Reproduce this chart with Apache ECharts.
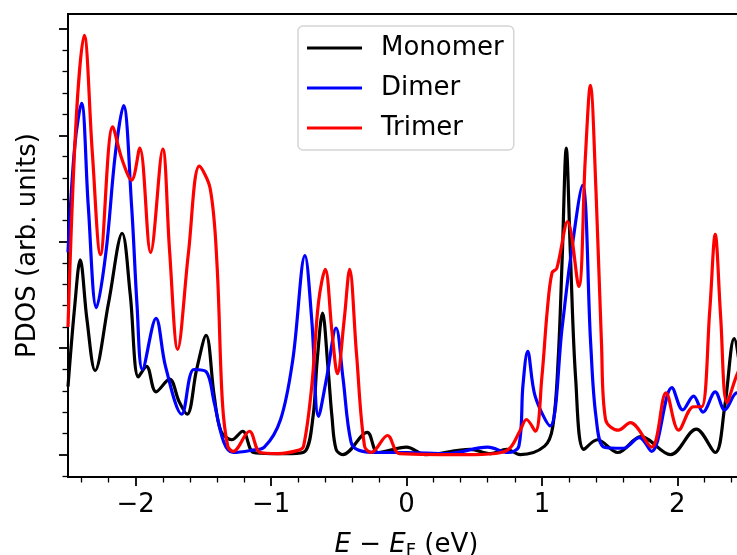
<!DOCTYPE html>
<html>
<head>
<meta charset="utf-8">
<script src="https://cdn.jsdelivr.net/npm/echarts@6/dist/echarts.min.js"></script>
<style>
  html, body { margin: 0; padding: 0; background: #fff; }
  #chart { width: 737px; height: 555px; }
</style>
</head>
<body>
<div id="chart"></div>
<script>
// energies (eV, relative to E_F) and PDOS values
const monoE = [-2.50, -2.45, -2.41, -2.36, -2.30, -2.20, -2.10, -2.04, -1.98, -1.92, -1.85, -1.75, -1.68, -1.62, -1.55, -1.48, -1.42, -1.37, -1.29, -1.21, -1.13, -1.00, -0.85, -0.75, -0.69, -0.66, -0.62, -0.58, -0.55, -0.52, -0.47, -0.29, -0.21, 0.00, 0.14, 0.47, 0.62, 0.74, 0.84, 1.02, 1.08, 1.12, 1.15, 1.18, 1.21, 1.25, 1.31, 1.41, 1.56, 1.73, 1.95, 2.14, 2.28, 2.35, 2.42, 2.47, 2.50];
const monoPdos = [0.64, 1.40, 1.83, 1.27, 0.79, 1.43, 2.08, 1.50, 0.73, 0.83, 0.59, 0.71, 0.50, 0.38, 0.80, 1.12, 0.55, 0.22, 0.14, 0.22, 0.02, 0.01, 0.01, 0.03, 0.36, 0.88, 1.33, 0.82, 0.35, 0.05, 0.00, 0.21, 0.02, 0.07, 0.00, 0.05, 0.01, 0.05, 0.00, 0.08, 0.26, 0.89, 1.85, 2.88, 1.90, 0.70, 0.05, 0.14, 0.02, 0.17, 0.00, 0.24, 0.02, 0.45, 1.09, 0.75, 0.40];

const dimerE = [-2.50, -2.45, -2.40, -2.35, -2.29, -2.22, -2.15, -2.09, -2.03, -1.99, -1.95, -1.85, -1.78, -1.66, -1.57, -1.48, -1.42, -1.35, -1.28, -1.15, -1.05, -0.93, -0.84, -0.75, -0.70, -0.65, -0.59, -0.52, -0.47, -0.41, -0.35, -0.20, 0.00, 0.30, 0.60, 0.75, 0.83, 0.86, 0.895, 0.95, 1.06, 1.15, 1.21, 1.30, 1.36, 1.40, 1.46, 1.60, 1.72, 1.81, 1.96, 2.04, 2.12, 2.19, 2.28, 2.35, 2.44, 2.50];
const dimerPdos = [1.90, 2.90, 3.30, 2.33, 1.38, 1.90, 2.83, 3.28, 2.33, 1.40, 0.80, 1.28, 0.83, 0.38, 0.80, 0.78, 0.49, 0.12, 0.02, 0.04, 0.07, 0.33, 0.89, 1.87, 1.27, 0.36, 0.72, 1.19, 0.73, 0.12, 0.04, 0.02, 0.02, 0.01, 0.07, 0.02, 0.08, 0.65, 0.97, 0.55, 0.27, 1.20, 1.83, 2.53, 1.05, 0.35, 0.07, 0.06, 0.16, 0.03, 0.63, 0.42, 0.55, 0.40, 0.59, 0.42, 0.58, 0.50];

const trimerE = [-2.50, -2.44, -2.38, -2.32, -2.26, -2.17, -2.10, -2.03, -1.97, -1.89, -1.80, -1.75, -1.69, -1.61, -1.53, -1.45, -1.40, -1.36, -1.32, -1.28, -1.16, -1.08, -0.95, -0.80, -0.76, -0.70, -0.65, -0.60, -0.55, -0.51, -0.46, -0.42, -0.37, -0.31, -0.26, -0.14, -0.05, 0.50, 0.70, 0.77, 0.84, 0.886, 0.952, 1.00, 1.04, 1.075, 1.11, 1.19, 1.272, 1.32, 1.358, 1.40, 1.44, 1.47, 1.565, 1.653, 1.81, 1.917, 2.01, 2.12, 2.18, 2.24, 2.28, 2.32, 2.367, 2.44, 2.50];
const trimerPdos = [1.20, 3.14, 3.94, 2.83, 1.88, 3.08, 2.77, 2.58, 2.88, 1.90, 2.87, 1.92, 0.99, 1.90, 2.71, 2.50, 1.80, 0.50, 0.08, 0.03, 0.22, 0.02, 0.01, 0.04, 0.08, 0.64, 1.43, 1.74, 1.15, 0.76, 1.27, 1.74, 0.96, 0.08, 0.02, 0.18, 0.01, 0.00, 0.02, 0.07, 0.23, 0.33, 0.22, 0.73, 1.36, 1.71, 1.75, 2.19, 1.58, 2.77, 3.47, 2.46, 1.05, 0.33, 0.23, 0.30, 0.07, 0.58, 0.23, 0.45, 0.45, 1.36, 2.07, 1.30, 0.49, 0.75, 0.90];

const xTicks = [-2, -1, 0, 1, 2];
const yTicks = [0, 1, 2, 3, 4];

const font = "DejaVu Sans";
const pairs = (xs, ys) => xs.map((x, i) => [x, ys[i]]);

const chart = echarts.init(document.getElementById("chart"));

const lineSeries = (name, xs, ys, color) => ({
  name: name,
  type: "line",
  data: pairs(xs, ys),
  showSymbol: false,
  smooth: 0.35,
  lineStyle: { color: color, width: 3.2 },
  itemStyle: { color: color },
  z: 3,
});

chart.setOption({
  animation: false,
  textStyle: { fontFamily: font },
  grid: {
    left: 68,
    top: 14,
    bottom: 78,
    width: 677,
    outerBoundsMode: "none",
    show: true,
    borderColor: "#000",
    borderWidth: 2,
  },
  legend: {
    orient: "vertical",
    left: 298,
    top: 26,
    padding: [9, 10, 9, 9],
    itemGap: 14,
    itemWidth: 55,
    itemHeight: 3,
    icon: "rect",
    backgroundColor: "#fff",
    borderColor: "#d5d5d5",
    borderWidth: 1.5,
    borderRadius: 5,
    textStyle: {
      fontFamily: font,
      fontSize: 26,
      color: "#000",
      padding: [0, 0, 0, 14],
    },
    data: ["Monomer", "Dimer", "Trimer"],
  },
  xAxis: {
    type: "value",
    min: -2.5,
    max: 2.5,
    splitNumber: 5,
    splitLine: { show: false },
    axisLine: { onZero: false, lineStyle: { color: "#000", width: 2 } },
    axisTick: {
      customValues: xTicks,
      length: 9,
      lineStyle: { color: "#000", width: 1.8 },
    },
    minorTick: {
      show: true,
      splitNumber: 5,
      length: 5.5,
      lineStyle: { color: "#000", width: 1.3 },
    },
    axisLabel: {
      customValues: xTicks,
      margin: 15,
      fontFamily: font,
      fontSize: 26,
      color: "#000",
      formatter: (v) => String(v).replace("-", "\u2212"),
    },
    name: "{i|E} \u2212 {i|E}{s|F} (eV)",
    nameLocation: "middle",
    nameGap: 53,
    nameTextStyle: {
      fontFamily: font,
      fontSize: 26,
      color: "#000",
      rich: {
        i: { fontFamily: font, fontSize: 26, fontStyle: "italic", color: "#000" },
        s: { fontFamily: font, fontSize: 18, color: "#000", padding: [12, 0, 0, 0] },
      },
    },
  },
  yAxis: {
    type: "value",
    min: -0.21,
    max: 4.14,
    splitNumber: 5,
    splitLine: { show: false },
    axisLine: { onZero: false, lineStyle: { color: "#000", width: 2 } },
    axisTick: {
      customValues: yTicks,
      length: 9,
      lineStyle: { color: "#000", width: 1.8 },
    },
    minorTick: {
      show: true,
      splitNumber: 5,
      length: 5.5,
      lineStyle: { color: "#000", width: 1.3 },
    },
    axisLabel: { show: false },
    name: "PDOS (arb. units)",
    nameLocation: "middle",
    nameGap: 27,
    nameTextStyle: { fontFamily: font, fontSize: 26, color: "#000" },
  },
  series: [
    lineSeries("Monomer", monoE, monoPdos, "#000000"),
    lineSeries("Dimer", dimerE, dimerPdos, "#0000ff"),
    lineSeries("Trimer", trimerE, trimerPdos, "#ff0000"),
  ],
});
</script>
</body>
</html>
